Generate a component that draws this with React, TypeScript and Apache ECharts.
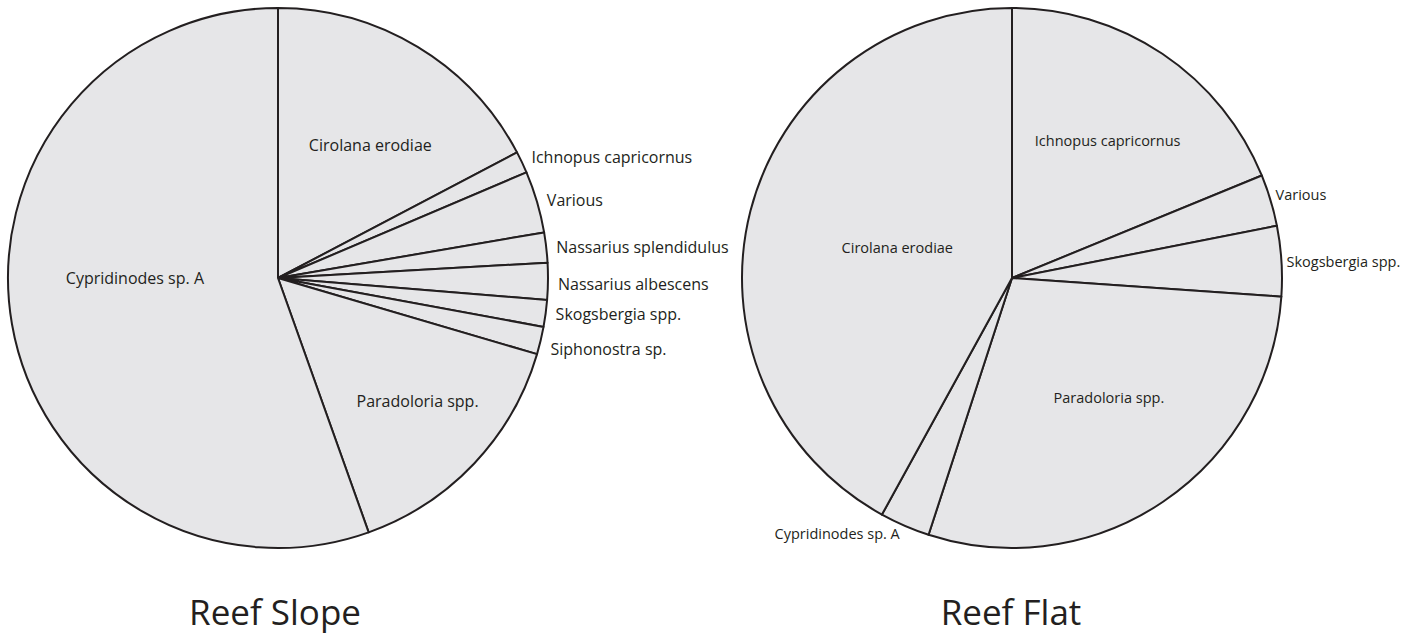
import React, { useEffect, useRef } from 'react';
import * as echarts from 'echarts';

// ---- data ----
const slopeNames = [
  'Cirolana erodiae',
  'Ichnopus capricornus',
  'Various',
  'Nassarius splendidulus',
  'Nassarius albescens',
  'Skogsbergia spp.',
  'Siphonostra sp.',
  'Paradoloria spp.',
  'Cypridinodes sp. A',
];
const slopeValues = [17.3, 1.3, 3.7, 1.8, 2.2, 1.6, 1.65, 15.0, 55.45];

const flatNames = [
  'Ichnopus capricornus',
  'Various',
  'Skogsbergia spp.',
  'Paradoloria spp.',
  'Cypridinodes sp. A',
  'Cirolana erodiae',
];
const flatValues = [18.8, 3.1, 4.2, 28.9, 3.0, 42.0];

const titles = ['Reef Slope', 'Reef Flat'];

// ---- layout / style (kept apart from data) ----
const FILL = '#e6e6e8';
const INK = '#231f20';
const FONT = '"Open Sans", "Noto Sans", sans-serif';
const RADIUS = 270;
const centers: [number, number][] = [
  [278, 278],
  [1012, 278],
];
const labelSizes = [16, 14.5];
const titleX = [275, 1011];
const titleY = 611;

// labels drawn inside the big slices: radial fraction and angle shift (deg) from slice mid-angle
const insideLabels: Record<string, { rf: number; shift: number }>[] = [
  {
    'Cirolana erodiae': { rf: 0.6, shift: -3.6 },
    'Paradoloria spp.': { rf: 0.69, shift: 1.9 },
    'Cypridinodes sp. A': { rf: 0.53, shift: -9.8 },
  },
  {
    'Ichnopus capricornus': { rf: 0.62, shift: -1 },
    'Paradoloria spp.': { rf: 0.57, shift: 5 },
    'Cirolana erodiae': { rf: 0.44, shift: -0.7 },
  },
];

// small vertical nudges for outside labels
const outsideNudge: Record<string, number>[] = [
  {
    'Ichnopus capricornus': -3,
    'Nassarius albescens': 3,
    'Siphonostra sp.': 7,
  },
  {
    Various: -6,
    'Cypridinodes sp. A': 8,
  },
];

function midAngles(values: number[]): number[] {
  const total = values.reduce((a, b) => a + b, 0);
  let cum = 0;
  return values.map((v) => {
    const m = 90 - ((cum + v / 2) / total) * 360;
    cum += v;
    return m;
  });
}

function buildSeries(idx: number, names: string[], values: number[]) {
  const mids = midAngles(values);
  const inside = insideLabels[idx];
  const nudge = outsideNudge[idx];
  const [cx, cy] = centers[idx];
  return {
    type: 'pie',
    name: titles[idx],
    center: [cx, cy],
    radius: [0, RADIUS],
    startAngle: 90,
    clockwise: true,
    avoidLabelOverlap: false,
    silent: true,
    itemStyle: { color: FILL, borderColor: INK, borderWidth: 2 },
    label: {
      show: true,
      position: 'outside',
      color: INK,
      fontFamily: FONT,
      fontSize: labelSizes[idx],
      distanceToLabelLine: 5,
      bleedMargin: 0,
      formatter: '{b}',
    },
    labelLine: { show: false, length: idx === 0 ? 5 : 0, length2: 0 },
    emphasis: { disabled: true, scale: false },
    data: names.map((n, i) => ({
      name: n,
      value: values[i],
      label: inside[n] ? { position: 'inside' } : undefined,
    })),
    labelLayout: (params: any) => {
      const n = names[params.dataIndex];
      const p = inside[n];
      if (!p) return nudge[n] ? { dy: nudge[n] } : {};
      const a = ((mids[params.dataIndex] + p.shift) * Math.PI) / 180;
      return {
        x: cx + Math.cos(a) * RADIUS * p.rf,
        y: cy - Math.sin(a) * RADIUS * p.rf,
        align: 'center',
        verticalAlign: 'middle',
      };
    },
  };
}

export default function App() {
  const ref = useRef<HTMLDivElement>(null);
  useEffect(() => {
    if (!ref.current) return;
    const chart = echarts.init(ref.current, undefined, { renderer: 'svg' });
    chart.setOption({
      animation: false,
      backgroundColor: '#ffffff',
      series: [buildSeries(0, slopeNames, slopeValues), buildSeries(1, flatNames, flatValues)],
      graphic: titles.map((t, i) => ({
        type: 'text',
        x: titleX[i],
        y: titleY,
        style: {
          text: t,
          font: `35px ${FONT}`,
          fill: INK,
          textAlign: 'center',
          textVerticalAlign: 'middle',
        },
      })),
    });
    return () => chart.dispose();
  }, []);
  return (
    <div
      ref={ref}
      style={{ position: 'absolute', left: 0, top: 0, width: 1414, height: 641 }}
    />
  );
}
